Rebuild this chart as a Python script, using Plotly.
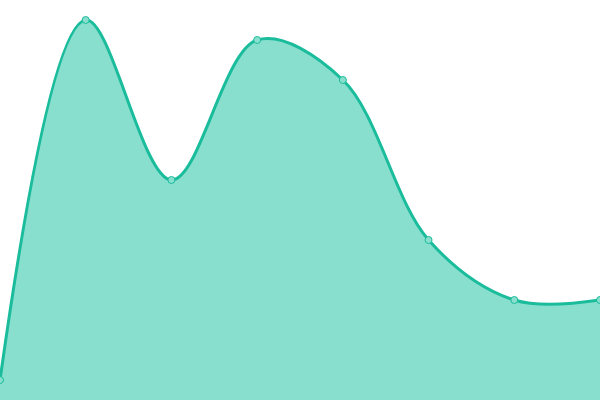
import plotly.graph_objects as go

# data points
x_vals = [0, 1, 2, 3, 4, 5, 6, 7]
y_vals = [5, 95, 55, 90, 80, 40, 25, 25]

line_color = "#1abc9c"
fill_color = "#89dfce"

trace = go.Scatter(
    x=x_vals, y=y_vals,
    mode="lines+markers",
    line=dict(color=line_color, width=3, shape="spline", smoothing=1),
    fill="tozeroy", fillcolor=fill_color,
    marker=dict(size=7, color=fill_color, line=dict(color=line_color, width=1)),
    cliponaxis=False,
    hoverinfo="x+y",
)

fig = go.Figure(data=[trace])
fig.update_layout(
    width=600, height=400,
    margin=dict(l=0, r=0, t=0, b=0),
    paper_bgcolor="white", plot_bgcolor="white",
    showlegend=False,
)
fig.update_xaxes(range=[0, 7], visible=False)
fig.update_yaxes(range=[0, 100], visible=False)
# page body has an 8px default margin, drop it so the chart sits at the window corner
fig.write_html("out.html", config={"displayModeBar": False},
               post_script="document.body.style.margin='0';")
